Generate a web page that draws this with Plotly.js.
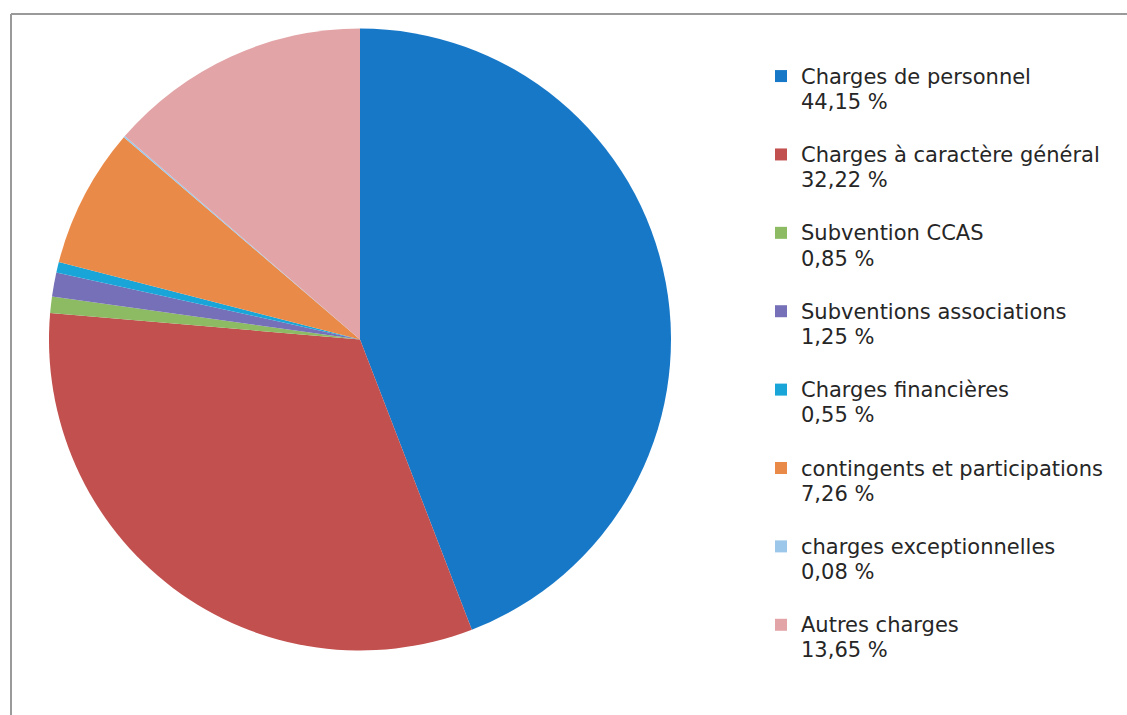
<!DOCTYPE html>
<html>
<head>
<meta charset="utf-8">
<script src="https://cdn.plot.ly/plotly-3.0.1.min.js"></script>
<style>
  html, body { margin: 0; padding: 0; background: #fff; }
  #myDiv { width: 1127px; height: 715px; }
</style>
</head>
<body>
<div id="myDiv"></div>
<script>
    var labels = [
        'Charges de personnel', 'Charges à caractère général', 'Subvention CCAS',
        'Subventions associations', 'Charges financières', 'contingents et participations',
        'charges exceptionnelles', 'Autres charges'
    ];
    var values = [44.15, 32.22, 0.85, 1.25, 0.55, 7.26, 0.08, 13.65];
    var percentLabels = ['44,15 %', '32,22 %', '0,85 %', '1,25 %', '0,55 %', '7,26 %', '0,08 %', '13,65 %'];
    var colors = [
        '#1878c8', '#c2504e', '#8cbb64', '#7570b8',
        '#1aa5d8', '#ea8a48', '#9cc7ea', '#e2a4a6'
    ];

    // label on the first line, percentage on the second, a blank line for spacing
    var big = function (s) { return '<span style="font-size:21px">' + s + '</span>'; };
    var legendNames = labels.map(function (l, i) {
        return big(l) + '<br>' + big(percentLabels[i]) + '<br> ';
    });

    var data = [{
        type: 'pie',
        labels: legendNames,
        values: values,
        sort: false,
        direction: 'clockwise',
        rotation: 0,
        textinfo: 'none',
        hoverinfo: 'label',
        marker: {
            colors: colors,
            line: {width: 0}
        },
        domain: {
            x: [49 / 1127, 671 / 1127],
            y: [63 / 715, 688 / 715]
        }
    }];

    var layout = {
        width: 1127,
        height: 715,
        margin: {l: 0, r: 0, t: 0, b: 0},
        paper_bgcolor: '#fff',
        font: {
            family: 'DejaVu Sans, sans-serif',
            size: 19.33,
            color: '#262626'
        },
        showlegend: true,
        legend: {
            x: 761 / 1127,
            xanchor: 'left',
            y: 1 - 57 / 715,
            yanchor: 'top',
            valign: 'top',
            bgcolor: 'rgba(0,0,0,0)',
            font: {family: 'DejaVu Sans, sans-serif', size: 19.33, color: '#262626'}
        },
        shapes: [
            {type: 'line', xref: 'paper', yref: 'paper', x0: 11 / 1127, x1: 1, y0: 1 - 14 / 715, y1: 1 - 14 / 715,
             line: {color: '#9a9a9a', width: 2}},
            {type: 'line', xref: 'paper', yref: 'paper', x0: 11 / 1127, x1: 11 / 1127, y0: 0, y1: 1 - 14 / 715,
             line: {color: '#9a9a9a', width: 2}}
        ]
    };

    Plotly.newPlot('myDiv', data, layout, {displayModeBar: false});
</script>
</body>
</html>
